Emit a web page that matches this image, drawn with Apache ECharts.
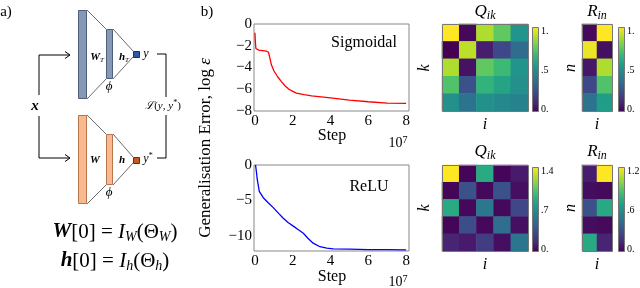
<!DOCTYPE html>
<html><head><meta charset="utf-8">
<script src="https://cdn.jsdelivr.net/npm/echarts@6/dist/echarts.min.js"></script>
<style>html,body{margin:0;padding:0;background:#fff}#c{width:640px;height:288px}</style>
</head><body><div id="c"></div>
<script>
// ---- data ----
const stepTicks = [0, 2, 4, 6, 8];
const sigTicks = [0, -2, -4, -6, -8];
const reluTicks = [0, -5, -10];
const sigStep = [0, 0.02, 0.05, 0.1, 0.2, 0.4, 0.6, 0.72, 0.8, 0.87, 1.0, 1.2, 1.4, 1.6, 1.8, 2.0, 2.2, 2.6, 3.0, 4.0, 5.0, 6.0, 7.0, 8.0];
const sigErr  = [-0.8, -1.6, -2.25, -2.35, -2.4, -2.45, -2.5, -2.6, -3.2, -3.75, -4.3, -4.85, -5.3, -5.7, -6.0, -6.2, -6.35, -6.5, -6.6, -6.8, -7.0, -7.15, -7.28, -7.3];
const reluStep = [0.03, 0.08, 0.12, 0.23, 0.44, 0.7, 0.97, 1.25, 1.5, 1.75, 2.03, 2.3, 2.56, 2.8, 3.08, 3.44, 3.8, 4.14, 5, 6, 7, 8];
const reluErr  = [0, -1.0, -2.0, -3.7, -4.6, -5.3, -6.0, -6.8, -7.5, -8.1, -8.6, -9.1, -9.6, -10.3, -11.0, -11.5, -11.7, -11.8, -11.85, -11.9, -11.92, -11.95];
const qSig = [
  [1.0, 0.02, 0.88, 0.75, 0.52],
  [0.0, 0.9, 0.08, 0.22, 0.35],
  [0.88, 0.05, 0.75, 0.68, 0.52],
  [0.72, 0.25, 0.65, 0.58, 0.5],
  [0.5, 0.38, 0.5, 0.47, 0.45]
];
const rSig = [[0.02, 1.0], [0.97, 0.04], [0.06, 0.88], [0.22, 0.72], [0.38, 0.55]];
const qRelu = [
  [1.4, 0.02, 0.85, 0.02, 0.1],
  [0.02, 0.35, 0.03, 0.35, 0.06],
  [0.85, 0.03, 0.56, 0.03, 0.3],
  [0.02, 0.33, 0.03, 0.5, 0.06],
  [0.14, 0.1, 0.25, 0.05, 0.55]
];
const rRelu = [[0.1, 1.2], [0.04, 0.03], [0.3, 0.72], [0.04, 0.03], [0.72, 0.12]];
const qSigMax = 1.0, rSigMax = 1.0, qReluMax = 1.4, rReluMax = 1.2;
const cbQSig = ['1.', '.5', '0.'];
const cbRSig = ['1.', '.5', '0.'];
const cbQRelu = ['1.4', '.7', '0.'];
const cbRRelu = ['1.2', '.6', '0.'];
const viridis = ['#440154','#482878','#3e4989','#31688e','#26828e','#1f9e89','#35b779','#6ece58','#b5de2b','#fde725'];

// ---- helpers ----
const SERIF = '"Liberation Serif", "DejaVu Serif", serif';
function cells(m){ const o=[]; m.forEach((row,r)=>row.forEach((v,c)=>o.push([c,r,v]))); return o; }
function pairs(xs, ys){ return xs.map((x,i)=>[x, ys[i]]); }
function fmtNum(v){ return v < 0 ? '\u2212' + Math.abs(v) : String(v); }
function idx(n){ return Array.from({length:n},(_,i)=>i); }

const gridBase = {show:true, borderColor:'#888', borderWidth:1, backgroundColor:'transparent'};
const lineX = (gi) => ({gridIndex:gi, type:'value', min:-0.05, max:8.15,
  axisLine:{show:false}, axisTick:{show:false}, splitLine:{show:false},
  axisLabel:{customValues:stepTicks, fontFamily:SERIF, fontSize:15, color:'#000', margin:3}});
const lineY = (gi, min, ticks) => ({gridIndex:gi, type:'value', min:min, max:0,
  axisLine:{show:false}, axisTick:{show:false}, splitLine:{show:false},
  axisLabel:{customValues:ticks, formatter:fmtNum, fontFamily:SERIF, fontSize:15, color:'#000', margin:2}});
const catAx = (gi, n, inv) => ({gridIndex:gi, type:'category', data:idx(n), inverse:!!inv, show:false});

// ---- graphic ----
const G = [];
function txt(x, y, text, opt){ G.push({type:'text', x:x, y:y, z:10, style:Object.assign({text:text, fill:'#000', font:'15px '+SERIF, align:'center', verticalAlign:'middle'}, opt||{})}); }
function rtxt(x, y, text, rich, extra){ G.push(Object.assign({type:'text', x:x, y:y, z:10, style:{text:text, rich:rich, align:'center', verticalAlign:'middle', fill:'#000'}}, extra||{})); }
function pl(pts, color, w){ G.push({type:'polyline', z:5, shape:{points:pts}, style:{stroke:color||'#000', lineWidth:w||1, fill:null}}); }
function rect(x,y,w,h,fill,stroke){ G.push({type:'rect', z:6, shape:{x:x,y:y,width:w,height:h}, style:{fill:fill, stroke:stroke, lineWidth:1}}); }

// panel labels
txt(6, 12, 'a)', {font:'15px '+SERIF});
txt(207, 12, 'b)', {font:'15px '+SERIF});

// network diagram
const blueBar = '#8599b6', blueEdge = '#4d5f7a', orBar = '#f8b890', orEdge = '#b8744a';
pl([[87,10],[106,29]], '#444', 0.8); pl([[87,99],[106,79]], '#444', 0.8);
pl([[113,29],[133,51]], '#444', 0.8); pl([[113,79],[133,57]], '#444', 0.8);
rect(78.5,10.5,8,88,blueBar,blueEdge);
rect(106.5,29.5,6,49,blueBar,blueEdge);
rect(133.5,51.5,6,6,'#2d5aa8','#1b2f5a');
pl([[87,115],[106,134]], '#444', 0.8); pl([[87,204],[106,185]], '#444', 0.8);
pl([[113,134],[133,157]], '#444', 0.8); pl([[113,185],[133,163]], '#444', 0.8);
rect(78.5,115.5,8,88,orBar,orEdge);
rect(106.5,134.5,6,50,orBar,orEdge);
rect(133.5,157.5,6,6,'#c65a1e','#6a2e0e');
const sub = {fontFamily:SERIF, fontStyle:'italic', fontSize:7, lineHeight:6, verticalAlign:'bottom'};
rtxt(97, 57, '{a|W}{s|T}', {a:{fontFamily:SERIF, fontWeight:'bold', fontStyle:'italic', fontSize:11, lineHeight:14, verticalAlign:'middle'}, s:sub});
rtxt(124, 57, '{a|h}{s|T}', {a:{fontFamily:SERIF, fontWeight:'bold', fontStyle:'italic', fontSize:11, lineHeight:14, verticalAlign:'middle'}, s:sub});
txt(146, 54, 'y', {font:'italic 12px '+SERIF});
txt(109, 87, '\u03d5', {font:'italic 13px '+SERIF});
txt(95, 160, 'W', {font:'bold italic 11px '+SERIF});
txt(122, 160, 'h', {font:'bold italic 11px '+SERIF});
rtxt(148, 159, '{a|y}{s|*}', {a:{fontFamily:SERIF, fontStyle:'italic', fontSize:12, lineHeight:14, verticalAlign:'middle'}, s:{fontFamily:SERIF, fontSize:8, lineHeight:6, verticalAlign:'top'}});
txt(109, 193, '\u03d5', {font:'italic 13px '+SERIF});
txt(35, 106, 'x', {font:'bold italic 15px '+SERIF});
pl([[39,95],[39,55],[70,55]], '#000', 1); pl([[65,51.5],[70,55],[65,58.5]], '#000', 1);
pl([[39,116],[39,158],[70,158]], '#000', 1); pl([[65,154.5],[70,158],[65,161.5]], '#000', 1);
pl([[157,54],[166,54],[166,97]], '#000', 1);
pl([[166,115],[166,158],[157,158]], '#000', 1);
rtxt(163, 106, '{c|\u2112}{n|(}{i|y}{n|, }{i|y}{u|*}{n|)}', {
  c:{fontFamily:'"DejaVu Serif", serif', fontStyle:'italic', fontSize:11, lineHeight:14, verticalAlign:'middle'},
  n:{fontFamily:SERIF, fontSize:11, lineHeight:14, verticalAlign:'middle'},
  i:{fontFamily:SERIF, fontStyle:'italic', fontSize:11, lineHeight:14, verticalAlign:'middle'},
  u:{fontFamily:SERIF, fontSize:8, lineHeight:6, verticalAlign:'top'}});
const eqRich = {
  w:{fontFamily:SERIF, fontWeight:'bold', fontStyle:'italic', fontSize:21, lineHeight:24, verticalAlign:'middle'},
  n:{fontFamily:SERIF, fontSize:21, lineHeight:24, verticalAlign:'middle'},
  i:{fontFamily:SERIF, fontStyle:'italic', fontSize:21, lineHeight:24, verticalAlign:'middle'},
  s:{fontFamily:SERIF, fontStyle:'italic', fontSize:14, lineHeight:10, verticalAlign:'bottom'}
};
rtxt(115, 232, '{w|W}{n|[0] = }{i|I}{s|W}{n|(\u0398}{s|W}{n|)}', eqRich);
rtxt(115, 261, '{w|h}{n|[0] = }{i|I}{s|h}{n|(\u0398}{s|h}{n|)}', eqRich);

// line chart annotations
G.push({type:'text', x:206, y:148, rotation:Math.PI/2, z:10, style:{text:'{n|Generalisation Error, log }{i|\u03b5}', rich:{n:{fontFamily:SERIF, fontSize:17}, i:{fontFamily:SERIF, fontStyle:'italic', fontSize:17}}, align:'center', verticalAlign:'middle', fill:'#000'}});
txt(364, 43, 'Sigmoidal', {font:'16px '+SERIF});
txt(369, 187, 'ReLU', {font:'16px '+SERIF});
txt(332, 136, 'Step', {font:'16px '+SERIF});
txt(332, 277, 'Step', {font:'16px '+SERIF});
const expRich = {n:{fontFamily:SERIF, fontSize:14, lineHeight:16, verticalAlign:'middle'}, u:{fontFamily:SERIF, fontSize:10, lineHeight:8, verticalAlign:'top'}};
rtxt(398, 143, '{n|10}{u|7}', expRich);
rtxt(398, 282, '{n|10}{u|7}', expRich);

// heatmap titles & axis names
const tRich = {q:{fontFamily:SERIF, fontStyle:'italic', fontSize:17, lineHeight:20, verticalAlign:'middle'}, s:{fontFamily:SERIF, fontStyle:'italic', fontSize:12, lineHeight:10, verticalAlign:'bottom'}};
rtxt(485, 12, '{q|Q}{s|ik}', tRich);
rtxt(597, 12, '{q|R}{s|in}', tRich);
rtxt(485, 152, '{q|Q}{s|ik}', tRich);
rtxt(597, 152, '{q|R}{s|in}', tRich);
function rotTxt(x,y,t){ G.push({type:'text', x:x, y:y, rotation:Math.PI/2, z:10, style:{text:t, font:'italic 16px '+SERIF, fill:'#000', align:'center', verticalAlign:'middle'}}); }
rotTxt(425, 68, 'k'); rotTxt(571, 68, 'n'); rotTxt(425, 208, 'k'); rotTxt(571, 208, 'n');
txt(485, 125, 'i', {font:'italic 16px '+SERIF});
txt(597, 125, 'i', {font:'italic 16px '+SERIF});
txt(485, 265, 'i', {font:'italic 16px '+SERIF});
txt(597, 265, 'i', {font:'italic 16px '+SERIF});

// colorbars
const grad = {type:'linear', x:0, y:1, x2:0, y2:0, colorStops: viridis.map((c,i)=>({offset:i/(viridis.length-1), color:c}))};
function cbar(x, y, h, labels){
  G.push({type:'rect', z:6, shape:{x:x+0.5, y:y+0.5, width:6, height:h}, style:{fill:grad, stroke:'#777', lineWidth:1}});
  const ys = [y+4, y+h/2+1, y+h-2];
  labels.forEach((l,i)=>G.push({type:'text', x:x+9, y:ys[i], z:10, style:{text:l, font:'10px '+SERIF, fill:'#000', align:'left', verticalAlign:'middle'}}));
}
cbar(532, 27, 84, cbQSig);
cbar(618, 27, 84, cbRSig);
cbar(532, 167, 84, cbQRelu);
cbar(618, 167, 84, cbRRelu);

[[442,24,86,87],[582,24,30,87],[442,165,86,86],[582,165,30,86]].forEach(b=>G.push({type:'rect', z:8, shape:{x:b[0]+0.5,y:b[1]+0.5,width:b[2],height:b[3]}, style:{fill:null, stroke:'#777', lineWidth:1}}));

const vm = (si, max) => ({show:false, type:'continuous', seriesIndex:si, min:0, max:max, inRange:{color:viridis}});

const option = {
  animation:false,
  backgroundColor:'#fff',
  grid:[
    Object.assign({left:254, top:24, width:155, height:87}, gridBase),
    Object.assign({left:254, top:165, width:155, height:86}, gridBase),
    {left:442, top:24, width:86, height:87},
    {left:582, top:24, width:30, height:87},
    {left:442, top:165, width:86, height:86},
    {left:582, top:165, width:30, height:86}
  ],
  xAxis:[lineX(0), lineX(1), catAx(2,5), catAx(3,2), catAx(4,5), catAx(5,2)],
  yAxis:[lineY(0,-8,sigTicks), lineY(1,-12.1,reluTicks), catAx(2,5,true), catAx(3,5,true), catAx(4,5,true), catAx(5,5,true)],
  visualMap:[vm(2,qSigMax), vm(3,rSigMax), vm(4,qReluMax), vm(5,rReluMax)],
  series:[
    {type:'line', xAxisIndex:0, yAxisIndex:0, data:pairs(sigStep, sigErr), symbol:'none', lineStyle:{color:'#ff0000', width:1.3}},
    {type:'line', xAxisIndex:1, yAxisIndex:1, data:pairs(reluStep, reluErr), symbol:'none', lineStyle:{color:'#0000ff', width:1.3}},
    {type:'heatmap', xAxisIndex:2, yAxisIndex:2, data:cells(qSig)},
    {type:'heatmap', xAxisIndex:3, yAxisIndex:3, data:cells(rSig)},
    {type:'heatmap', xAxisIndex:4, yAxisIndex:4, data:cells(qRelu)},
    {type:'heatmap', xAxisIndex:5, yAxisIndex:5, data:cells(rRelu)}
  ],
  graphic:{elements:G}
};
const chart = echarts.init(document.getElementById('c'), null, {renderer:'canvas'});
chart.setOption(option);
</script></body></html>
